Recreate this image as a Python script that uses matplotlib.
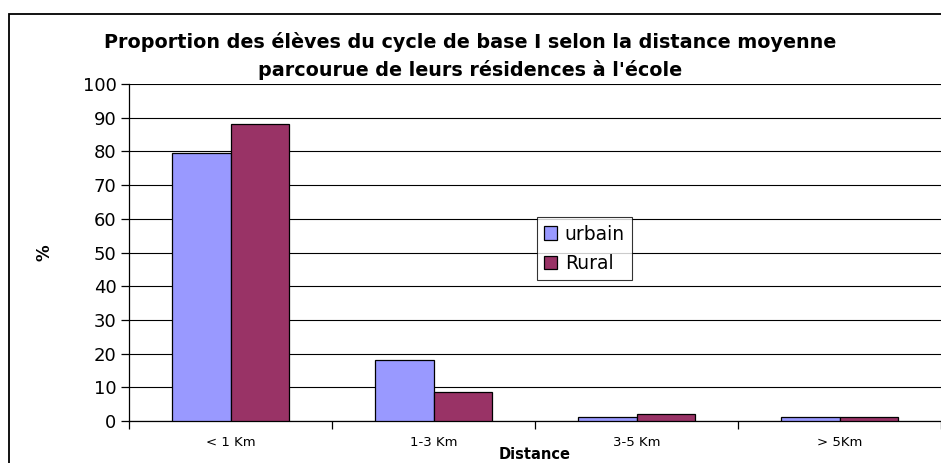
import numpy as np
import matplotlib.pyplot as plt
from matplotlib.patches import Rectangle

# the reference looks horizontally stretched, DejaVu's wider glyphs fit it better
plt.rcParams['font.family'] = ['DejaVu Sans']

categories = ['< 1 Km', '1-3 Km', '3-5 Km', '> 5Km']
urbain = [79.5, 18.1, 1.2, 1.2]
rural = [88.1, 8.5, 2.0, 1.2]
yticks = list(range(0, 101, 10))

fig = plt.figure(figsize=(9.41, 4.63), dpi=100)
ax = fig.add_axes([129 / 941, 42 / 463, 812 / 941, 337 / 463])

# outer chart frame (cut off at right and bottom like the screenshot)
fig.patches.append(Rectangle((9 / 941, -0.05), 1.0, 1 - 14 / 463 + 0.05,
                             transform=fig.transFigure, fill=False,
                             edgecolor='black', linewidth=1.3))

x = np.arange(len(categories)) + 0.5
w = 0.287
ax.bar(x - w / 2, urbain, w, color='#9999FF', edgecolor='black',
       linewidth=0.9, label='urbain', zorder=3)
ax.bar(x + w / 2, rural, w, color='#993366', edgecolor='black',
       linewidth=0.9, label='Rural', zorder=3)

ax.set_xlim(0, len(categories))
ax.set_ylim(0, 100)
ax.set_yticks(yticks)
ax.tick_params(axis='y', labelsize=13, length=6, width=0.9, pad=3)
ax.yaxis.grid(True, color='black', linewidth=0.8, zorder=0)
ax.set_axisbelow(True)

ax.set_xticks(x)
ax.set_xticklabels(categories, fontsize=9.5)
ax.tick_params(axis='x', length=0, pad=11)
ax.set_xticks(np.arange(len(categories) + 1), minor=True)
ax.tick_params(axis='x', which='minor', length=6, width=0.9)

for side in ['top', 'right']:
    ax.spines[side].set_visible(False)
ax.spines['left'].set_linewidth(0.9)
ax.spines['bottom'].set_linewidth(0.9)

ax.set_xlabel('Distance', fontsize=10.5, fontweight='bold')
ax.xaxis.set_label_coords(406 / 812, -26 / 337)
ax.set_ylabel('%', fontsize=12, fontweight='bold')
ax.yaxis.set_label_coords(-75 / 812, 0.5)

fig.text(0.5, 1 - 48 / 463, "Proportion des élèves du cycle de base I selon la distance moyenne",
         ha='center', va='baseline', fontsize=13.8, fontweight='bold')
fig.text(0.5, 1 - 76 / 463, "parcourue de leurs résidences à l'école",
         ha='center', va='baseline', fontsize=13.8, fontweight='bold')

leg = ax.legend(loc='upper left', bbox_to_anchor=(0.502, 0.605), fontsize=13.5,
                frameon=True, fancybox=False, edgecolor='black',
                handlelength=0.7, handleheight=0.7, handletextpad=0.4,
                borderpad=0.4, labelspacing=0.55, borderaxespad=0)
leg.get_frame().set_linewidth(0.8)

fig.savefig('out.png', dpi=100)
